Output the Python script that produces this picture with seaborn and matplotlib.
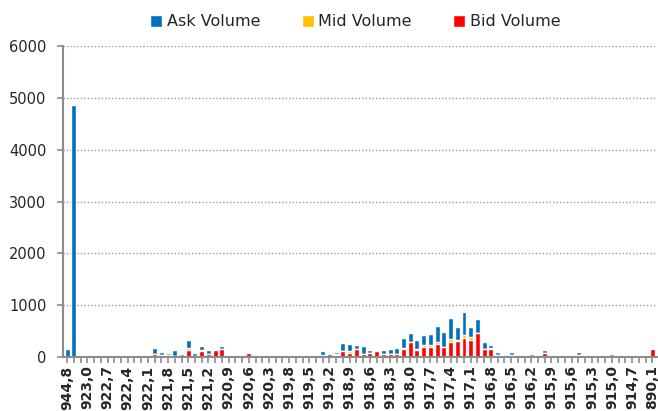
import matplotlib
matplotlib.use("Agg")
import matplotlib.pyplot as plt
import seaborn as sns
import numpy as np

# price levels, highest first (comma as decimal separator like the source)
prices = ["944,8", "923,2", "923,1", "923,0", "922,9", "922,8", "922,7", "922,6",
          "922,5", "922,4", "922,3", "922,2", "922,1", "922,0", "921,9", "921,8",
          "921,7", "921,6", "921,5", "921,4", "921,3", "921,2", "921,1", "921,0",
          "920,9", "920,8", "920,7", "920,6", "920,5", "920,4", "920,3", "920,1",
          "920,0", "919,8", "919,7", "919,6", "919,5", "919,4", "919,3", "919,2",
          "919,1", "919,0", "918,9", "918,8", "918,7", "918,6", "918,5", "918,4",
          "918,3", "918,2", "918,1", "918,0", "917,9", "917,8", "917,7", "917,6",
          "917,5", "917,4", "917,3", "917,2", "917,1", "917,0", "916,9", "916,8",
          "916,7", "916,6", "916,5", "916,4", "916,3", "916,2", "916,1", "916,0",
          "915,9", "915,8", "915,7", "915,6", "915,5", "915,4", "915,3", "915,2",
          "915,1", "915,0", "914,9", "914,8", "914,7", "914,6", "914,5", "890,1"]

ask_volume = [165, 4870, 0, 0, 0, 10, 0, 0, 0, 10, 7, 30, 12, 115, 50, 50,
              115, 35, 155, 45, 85, 70, 15, 65, 30, 30, 40, 15, 0, 20, 0, 0,
              0, 0, 0, 0, 10, 0, 80, 55, 45, 160, 140, 85, 160, 70, 15, 75,
              90, 110, 190, 175, 170, 190, 225, 305, 295, 405, 255, 440, 205, 275,
              125, 65, 55, 15, 55, 15, 30, 40, 0, 65, 30, 20, 15, 0, 45, 0,
              30, 0, 45, 40, 10, 0, 0, 10, 0, 0]

mid_volume = [0, 0, 0, 0, 0, 0, 0, 0, 0, 0, 0, 0, 8, 0, 0, 0,
              0, 15, 45, 0, 10, 5, 5, 0, 0, 0, 0, 5, 0, 0, 0, 0,
              0, 0, 0, 0, 0, 0, 10, 0, 15, 0, 30, 0, 0, 0, 0, 0,
              10, 10, 25, 0, 25, 35, 25, 30, 0, 45, 20, 60, 50, 0,
              0, 25, 0, 0, 0, 10, 0, 0, 10, 0, 0, 0, 0, 0, 0, 0,
              0, 0, 0, 0, 10, 0, 0, 0, 0, 0]

bid_volume = [0, 0, 0, 10, 0, 0, 0, 0, 0, 0, 5, 0, 0, 65, 50, 35,
              25, 15, 135, 30, 125, 65, 145, 155, 0, 35, 0, 80, 0, 0, 0, 0,
              0, 0, 0, 0, 0, 0, 25, 10, 45, 110, 80, 155, 60, 75, 115, 65,
              55, 55, 150, 300, 140, 195, 205, 260, 195, 300, 315, 365, 335, 465,
              160, 150, 35, 30, 50, 0, 0, 25, 30, 75, 35, 0, 0, 0, 45, 0,
              0, 0, 0, 30, 0, 0, 0, 0, 0, 160]

legend_labels = ["Ask Volume", "Mid Volume", "Bid Volume"]
colors = ["#0070C0", "#FFC000", "#FF0000"]

ask = np.array(ask_volume)
mid = np.array(mid_volume)
bid = np.array(bid_volume)
mid_top = bid + mid
total = mid_top + ask

sns.set_style("white")
plt.rcParams['font.family'] = ['DejaVu Sans']

fig, ax = plt.subplots(figsize=(6.58, 4.11), dpi=100)
fig.subplots_adjust(left=0.096, right=0.999, bottom=0.131, top=0.888)

# stacked look: draw cumulative heights from the top layer down
for heights, col, lab in zip([total, mid_top, bid], colors, legend_labels):
    sns.barplot(x=prices, y=heights, order=prices, color=col, saturation=1,
                width=0.74, errorbar=None, label=lab, ax=ax)

ax.set_xlim(-0.6, 87.75)
ax.set_ylim(0, 6000)
ax.set_yticks(range(0, 6001, 1000))
ax.set_xticks(range(len(prices)))
ax.set_xticklabels([p if i % 3 == 0 else "" for i, p in enumerate(prices)],
                   rotation=90, fontweight="bold", fontsize=10)
ax.set_xlabel("")
ax.set_ylabel("")

ax.yaxis.grid(True, linestyle=(0, (1, 1.5)), color="#9a9a9a", linewidth=1)
ax.xaxis.grid(False)
ax.set_axisbelow(True)

for side in ["top", "right"]:
    ax.spines[side].set_visible(False)
for side in ["left", "bottom"]:
    ax.spines[side].set_color("#8c8c8c")
    ax.spines[side].set_linewidth(1.5)

ax.tick_params(axis="x", bottom=True, length=4, width=1.2, color="#8c8c8c", pad=2)
ax.tick_params(axis="y", left=True, length=4, width=1.2, color="#8c8c8c",
               labelsize=10.5, pad=8)

ax.legend(loc="upper center", bbox_to_anchor=(0.54, 1.0), bbox_transform=fig.transFigure,
          ncol=3, frameon=False, handlelength=0.75, handleheight=0.75,
          handletextpad=0.3, columnspacing=2.6, fontsize=11.5)

fig.savefig("out.png", dpi=100)
